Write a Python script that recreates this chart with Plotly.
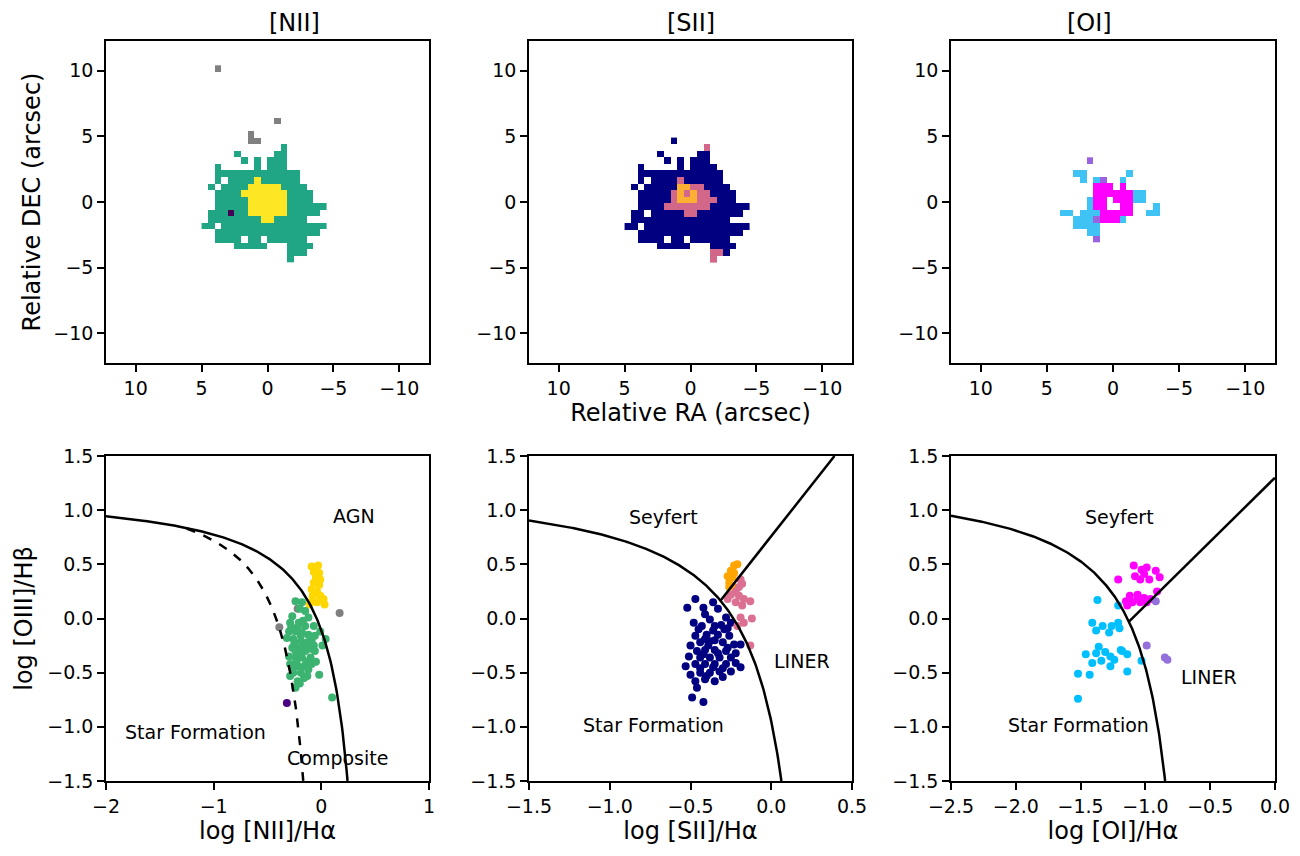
import numpy as np
import plotly.graph_objects as go
from plotly.subplots import make_subplots

# ---- spaxel maps (one char = one 0.5" spaxel), columns from RA +5.0 to -4.5 ----
# NII: k = unclassified/grey, g = star forming, y = AGN, p = other
NII_TOP = 10.5
NII_MAP = [
    "..k................",
    "...................",
    "...................",
    "...................",
    "...................",
    "...................",
    "...................",
    "...................",
    "...........k.......",
    "...................",
    ".......k...........",
    ".......kk..........",
    "............g......",
    ".....g.....gg......",
    "......g.g.ggg......",
    "..g.....g.ggg......",
    "..ggggggggggggg....",
    "..g.ggggygggggg....",
    ".g.ggggyyyyygggg...",
    "..ggggyyyyyyygggg..",
    "..gggggyyyyyygggg..",
    "..gggggyyyyyygggggg",
    ".gggpggyyyyyyggggg.",
    ".ggggggggyyggggg...",
    "gg.gggggggggggggggg",
    "..gggggggggggggggg.",
    "..gggg.gg.gggggg...",
    ".....ggggg...gggg..",
    ".............ggg...",
    ".............g.....",
]
# SII: n = star forming, o = Seyfert, r = LINER
SII_TOP = 5.0
SII_MAP = [
    ".......n...........",
    "............r......",
    ".....n.....nn......",
    "......n.n.nnn......",
    "..n.....n.nnnn.....",
    "..nnnnnnnnnnnnn....",
    "..n.nnnnrnnnnnn....",
    ".n.nnnnnoorrnnnn...",
    "..nnnnnrororrnnnn..",
    "..nnnnnrooorrrnnn..",
    "..nnnnrrrrrrrnnnnnn",
    ".nn.nnnnnrrnnnnnnn.",
    ".nnnnnnnnnnnnnnn...",
    "nn.nnnnnnnnnnnnnnnn",
    "..nnnnnnnnnnnnnnnn.",
    "..nnnn.nn.nnnnnn...",
    ".....nnnnn...nnnn..",
    ".............rrn...",
    ".............r.....",
]
# OI: b = star forming, m = Seyfert, v = LINER
OI_TOP = 3.5
OI_MAP = [
    "......v............",
    "...................",
    "....bb......b......",
    ".....b.bv..b.......",
    ".......mmm.m.......",
    ".......mmmmmmbb....",
    "......bmm.mmmbb....",
    "......bmm..mm...b..",
    "..bb.bbbmmmmm..bb..",
    "....bbbvmmmb.......",
    "....bbbb...........",
    "......bb...........",
    ".......v...........",
]

# ---- BPT points ----
nii_sf_x = [-0.24, -0.18, -0.15, -0.27, -0.12, -0.29, -0.21, -0.15, -0.07, -0.30, -0.24, -0.18,
            -0.12, -0.06, -0.32, -0.26, -0.19, -0.13, -0.07, 0.01, -0.27, -0.21, -0.15, -0.06,
            -0.30, -0.24, -0.18, -0.10, -0.29, -0.22, -0.16, -0.09, -0.26, -0.19, -0.13, -0.02,
            -0.29, -0.22, -0.16, -0.24, 0.10, 0.04, -0.01, -0.22, -0.17, -0.25, -0.20, -0.14,
            -0.23, -0.17, -0.11, -0.28, -0.20, -0.09, -0.27, -0.12, -0.19, -0.24, -0.05, -0.20]
nii_sf_y = [0.16, 0.15, 0.07, 0.02, 0.01, -0.04, -0.04, -0.07, -0.07, -0.12, -0.12, -0.13,
            -0.15, -0.16, -0.18, -0.19, -0.21, -0.22, -0.25, -0.25, -0.27, -0.28, -0.30, -0.30,
            -0.35, -0.36, -0.36, -0.36, -0.42, -0.44, -0.44, -0.42, -0.50, -0.50, -0.53, -0.52,
            -0.53, -0.58, -0.55, -0.64, -0.73, -0.19, -0.12, -0.08, -0.02, -0.23, -0.33, -0.40,
            -0.40, -0.26, -0.28, -0.08, 0.09, -0.20, -0.46, -0.47, -0.16, -0.30, -0.40, -0.60]
nii_agn_x = [-0.09, -0.03, -0.07, -0.02, -0.05, -0.01, -0.07, -0.02, -0.09, -0.04, -0.08, -0.01,
             0.02, -0.10, -0.04, 0.03, -0.11]
nii_agn_y = [0.48, 0.49, 0.43, 0.42, 0.38, 0.36, 0.33, 0.31, 0.27, 0.25, 0.21, 0.21,
             0.18, 0.15, 0.15, 0.13, 0.13]
nii_grey_x = [0.17, -0.39, -0.22]
nii_grey_y = [0.05, -0.08, 0.09]
nii_other_x = [-0.32]
nii_other_y = [-0.78]

sii_sf_x = [-0.47, -0.52, -0.42, -0.36, -0.33, -0.48, -0.41, -0.38, -0.28, -0.25, -0.43, -0.35,
            -0.29, -0.47, -0.40, -0.33, -0.26, -0.50, -0.44, -0.38, -0.30, -0.23, -0.19, -0.46,
            -0.41, -0.35, -0.28, -0.22, -0.51, -0.44, -0.38, -0.32, -0.25, -0.53, -0.47, -0.41,
            -0.35, -0.28, -0.22, -0.19, -0.50, -0.44, -0.38, -0.32, -0.25, -0.47, -0.41, -0.35,
            -0.46, -0.49, -0.42, -0.39, -0.33, -0.42, -0.36, -0.30, -0.44, -0.35, -0.41, -0.27,
            -0.31, -0.36, -0.45, -0.40, -0.30, -0.27]
sii_sf_y = [0.18, 0.10, 0.10, 0.15, 0.09, -0.04, 0.04, -0.01, 0.01, -0.04, -0.07, -0.07,
            -0.10, -0.16, -0.15, -0.15, -0.16, -0.25, -0.22, -0.21, -0.22, -0.24, -0.24, -0.30,
            -0.29, -0.29, -0.30, -0.32, -0.35, -0.36, -0.36, -0.36, -0.36, -0.44, -0.42, -0.42,
            -0.42, -0.42, -0.41, -0.45, -0.52, -0.50, -0.50, -0.49, -0.49, -0.58, -0.56, -0.58,
            -0.64, -0.73, -0.77, -0.25, -0.32, -0.33, -0.45, -0.46, -0.46, -0.20, -0.19, -0.27,
            -0.06, -0.11, -0.10, -0.53, -0.54, -0.09]
sii_sey_x = [-0.23, -0.21, -0.25, -0.23, -0.27, -0.24, -0.26, -0.24, -0.26]
sii_sey_y = [0.49, 0.50, 0.44, 0.42, 0.39, 0.38, 0.33, 0.30, 0.29]
sii_lin_x = [-0.19, -0.18, -0.20, -0.22, -0.25, -0.20, -0.17, -0.13, -0.27, -0.22, -0.18, -0.19,
             -0.12, -0.17, -0.21, -0.13]
sii_lin_y = [0.36, 0.32, 0.29, 0.25, 0.22, 0.21, 0.18, 0.16, 0.18, 0.15, 0.12, 0.01,
             0.00, -0.04, -0.07, -0.25]

oi_sf_x = [-1.37, -1.21, -1.41, -1.38, -1.33, -1.28, -1.26, -1.21, -1.20, -1.46, -1.38, -1.36,
           -1.31, -1.27, -1.24, -1.19, -1.14, -1.41, -1.34, -1.27, -1.14, -1.03, -1.52, -1.43,
           -1.52, -1.18]
oi_sf_y = [0.17, 0.12, -0.04, -0.11, -0.07, -0.13, -0.07, -0.04, -0.09, -0.33, -0.32, -0.26,
           -0.31, -0.35, -0.38, -0.29, -0.33, -0.41, -0.39, -0.44, -0.49, -0.39, -0.51, -0.52,
           -0.74, -0.30]
oi_sey_x = [-1.09, -1.03, -0.99, -0.92, -0.89, -1.21, -1.08, -1.01, -1.04, -0.97, -0.91, -1.12,
            -1.06, -1.01, -0.96, -1.15, -1.10, -1.04, -0.99, -1.14, -1.06]
oi_sey_y = [0.49, 0.45, 0.47, 0.44, 0.38, 0.36, 0.39, 0.41, 0.36, 0.36, 0.25, 0.21,
            0.22, 0.19, 0.18, 0.16, 0.15, 0.15, 0.15, 0.12, 0.18]
oi_lin_x = [-0.92, -0.99, -0.85, -0.83]
oi_lin_y = [0.16, -0.25, -0.36, -0.38]

# demarcation lines (Kewley 2001, Kauffmann 2003, Kewley 2006)
def kew_nii(x): return 0.61 / (x - 0.47) + 1.19
def kau_nii(x): return 0.61 / (x - 0.05) + 1.30
def kew_sii(x): return 0.72 / (x - 0.32) + 1.30
def sey_sii(x): return 1.89 * x + 0.76
def kew_oi(x): return 0.73 / (x + 0.59) + 1.33
def sey_oi(x): return 1.18 * x + 1.30

FONT = "DejaVu Sans"
RA_LEFT = 5.0
DEC_SHIFT = -0.1
W, H = 1300, 856
PAD = 8  # page body margin

fig = make_subplots(rows=2, cols=3)

def add_map(rows, top_dec, colours, col):
    ra = [RA_LEFT - 0.5 * c - 0.25 for c in range(len(rows[0]))]
    dec = [top_dec - 0.5 * r - 0.25 + DEC_SHIFT for r in range(len(rows))]
    for key, colour in colours.items():
        z = [[1 if ch == key else None for ch in row] for row in rows]
        fig.add_trace(go.Heatmap(x=ra, y=dec[::-1], z=z[::-1], zmin=0, zmax=1,
                                 colorscale=[[0, colour], [1, colour]], showscale=False,
                                 hoverinfo="skip"), row=1, col=col)

add_map(NII_MAP, NII_TOP, {"k": "#808080", "g": "#21a685", "y": "#fde725", "p": "#440154"}, 1)
add_map(SII_MAP, SII_TOP, {"n": "#000080", "o": "#fbb034", "r": "#d2678a"}, 2)
add_map(OI_MAP, OI_TOP, {"b": "#3fc2f4", "m": "#ff00ff", "v": "#9a62e0"}, 3)

def pts(x, y, colour, col):
    fig.add_trace(go.Scatter(x=x, y=y, mode="markers",
                             marker=dict(size=8, color=colour, line=dict(width=0))),
                  row=2, col=col)

def line(x, y, col, dash="solid"):
    fig.add_trace(go.Scatter(x=x, y=y, mode="lines",
                             line=dict(color="black", width=2.5, dash=dash)), row=2, col=col)

pts(nii_agn_x, nii_agn_y, "#ffd700", 1)
pts(nii_grey_x, nii_grey_y, "#808080", 1)
pts(nii_sf_x, nii_sf_y, "#3cb371", 1)
pts(nii_other_x, nii_other_y, "#4b0082", 1)
xs = np.linspace(-2.0, 0.2432, 300)
line(xs, kew_nii(xs), 1)
xs = np.linspace(-1.25, -0.168, 200)
line(xs, kau_nii(xs), 1, "dash")

pts(sii_sf_x, sii_sf_y, "#000080", 2)
pts(sii_sey_x, sii_sey_y, "#ffa500", 2)
pts(sii_lin_x, sii_lin_y, "#db7093", 2)
xs = np.linspace(-1.5, 0.0629, 300)
line(xs, kew_sii(xs), 2)
xs = np.array([-0.315, (1.5 - 0.76) / 1.89])
line(xs, sey_sii(xs), 2)

pts(oi_sf_x, oi_sf_y, "#00bfff", 3)
pts(oi_sey_x, oi_sey_y, "#ff00ff", 3)
pts(oi_lin_x, oi_lin_y, "#9370db", 3)
xs = np.linspace(-2.5, -0.848, 300)
line(xs, kew_oi(xs), 3)
xs = np.array([-1.127, 0.0])
line(xs, sey_oi(xs), 3)

def xdom(a, b): return [(a - PAD) / W, (b - PAD) / W]
def ydom(top, bottom): return [1 - (bottom - PAD) / H, 1 - (top - PAD) / H]

col_dom = [xdom(106, 429), xdom(529, 852), xdom(951, 1275)]
top_dom = ydom(41, 363)
bot_dom = ydom(456, 781)

axis_style = dict(showline=True, mirror=True, linecolor="black", linewidth=1.5,
                  ticks="outside", ticklen=7, tickwidth=1.5, tickcolor="black",
                  showgrid=False, zeroline=False, automargin=False,
                  tickfont=dict(family=FONT, size=19, color="black"))
title_font = dict(family=FONT, size=24, color="black")

for c in range(3):
    fig.update_xaxes(axis_style, domain=col_dom[c], range=[12.25, -12.25],
                     tickvals=[10, 5, 0, -5, -10], row=1, col=c + 1)
    fig.update_yaxes(axis_style, domain=top_dom, range=[-12.25, 12.25],
                     tickvals=[-10, -5, 0, 5, 10], row=1, col=c + 1)
    fig.update_xaxes(domain=col_dom[c], row=2, col=c + 1)
    fig.update_yaxes(axis_style, domain=bot_dom, range=[-1.5, 1.5], dtick=0.5,
                     tickformat=".1f", row=2, col=c + 1)

fig.update_xaxes(axis_style, range=[-2, 1], dtick=1, row=2, col=1,
                 title=dict(text="log [NII]/Hα", font=title_font, standoff=6))
fig.update_xaxes(axis_style, range=[-1.5, 0.5], dtick=0.5, tickformat=".1f", row=2, col=2,
                 title=dict(text="log [SII]/Hα", font=title_font, standoff=6))
fig.update_xaxes(axis_style, range=[-2.5, 0], dtick=0.5, tickformat=".1f", row=2, col=3,
                 title=dict(text="log [OI]/Hα", font=title_font, standoff=6))
fig.update_xaxes(title=dict(text="Relative RA (arcsec)", font=title_font, standoff=6), row=1, col=2)
fig.update_yaxes(title=dict(text="Relative DEC (arcsec)", font=title_font, standoff=6), row=1, col=1)
fig.update_yaxes(title=dict(text="log [OIII]/Hβ", font=title_font, standoff=8), row=2, col=1)

label_font = dict(family=FONT, size=19, color="black")
texts = [
    (1, 0.30, 0.95, "AGN"), (1, -1.17, -1.05, "Star Formation"), (1, 0.15, -1.29, "Composite"),
    (2, -0.67, 0.94, "Seyfert"), (2, 0.19, -0.39, "LINER"), (2, -0.73, -0.98, "Star Formation"),
    (3, -1.20, 0.94, "Seyfert"), (3, -0.51, -0.54, "LINER"), (3, -1.52, -0.98, "Star Formation"),
]
for col, x, y, t in texts:
    fig.add_annotation(x=x, y=y, text=t, showarrow=False, font=label_font, row=2, col=col)

for c, t in enumerate(["[NII]", "[SII]", "[OI]"]):
    fig.add_annotation(x=sum(col_dom[c]) / 2, y=1, xref="paper", yref="paper",
                       text=t, showarrow=False, yanchor="top", borderpad=0,
                       font=dict(family=FONT, size=24, color="black"))

fig.update_layout(width=W, height=H, margin=dict(l=0, r=0, t=0, b=0),
                  paper_bgcolor="white", plot_bgcolor="white", showlegend=False,
                  font=dict(family=FONT))

fig.write_html("out.html")
